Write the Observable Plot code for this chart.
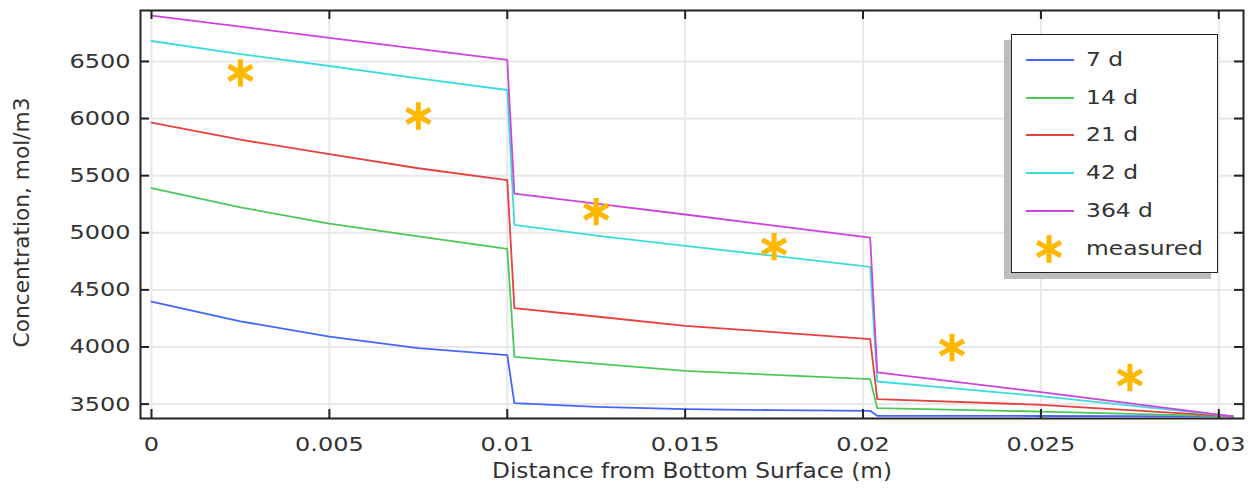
<!DOCTYPE html>
<html><head><meta charset="utf-8">
<script src="https://cdn.jsdelivr.net/npm/d3@7"></script>
<script src="https://cdn.jsdelivr.net/npm/@observablehq/plot@0.6"></script>
<style>
body{margin:0;background:#fff;}
#wrap{position:relative;width:1255px;height:492px;font-family:"DejaVu Sans",sans-serif;}
#legendBox{position:absolute;left:1011px;top:34px;width:205px;height:237px;border:1.5px solid #222;background:#fff;box-shadow:-7px 6px 0 #bdbdbd;}
.lrow{position:absolute;height:26px;line-height:26px;font-size:19.5px;color:#333;white-space:nowrap;transform:scaleX(1.2);transform-origin:left center;}
.lsym{position:absolute;overflow:visible;}
</style></head><body><div id="wrap"></div>
<script>
// ---- data ----
const distance = [0, 0.0025, 0.005, 0.0075, 0.01, 0.0102, 0.0125, 0.015, 0.0175, 0.0202, 0.0204, 0.025, 0.0304];
const conc7d   = [4398, 4225, 4090, 3990, 3929, 3509, 3476, 3456, 3447, 3441, 3398, 3396, 3392];
const conc14d  = [5390, 5223, 5080, 4968, 4860, 3914, 3855, 3791, 3756, 3719, 3465, 3435, 3392];
const conc21d  = [5964, 5815, 5688, 5565, 5460, 4340, 4267, 4185, 4130, 4069, 3544, 3494, 3392];
const conc42d  = [6679, 6565, 6460, 6352, 6250, 5070, 4975, 4885, 4798, 4702, 3698, 3570, 3392];
const conc364d = [6901, 6804, 6707, 6610, 6513, 5343, 5255, 5160, 5062, 4958, 3777, 3605, 3392];
const seriesNames = ["7 d", "14 d", "21 d", "42 d", "364 d"];
const seriesColors = ["#4466ff", "#4cc85a", "#e8403f", "#3ddcdc", "#cc44dd"];
const measuredX = [0.0025, 0.0075, 0.0125, 0.0175, 0.0225, 0.0275];
const measuredY = [6400, 6023, 5185, 4879, 3995, 3733];
const measuredName = "measured";
const measuredColor = "#ffb800";
const xTicks = [0, 0.005, 0.01, 0.015, 0.02, 0.025, 0.03];
const xTickLabels = ["0", "0.005", "0.01", "0.015", "0.02", "0.025", "0.03"];
const yTicks = [3500, 4000, 4500, 5000, 5500, 6000, 6500];
const xTitle = "Distance from Bottom Surface (m)";
const yTitle = "Concentration, mol/m3";

// ---- build tables ----
const seriesValues = [conc7d, conc14d, conc21d, conc42d, conc364d];
const rows = seriesValues.flatMap((vals, k) => distance.map((d, i) => ({x: d, y: vals[i], series: seriesNames[k]})));
const measured = measuredX.map((d, i) => ({x: d, y: measuredY[i]}));

const W = 1255, H = 492, mL = 140, mR = 12, mT = 10, mB = 74;
const innerW = W - mL - mR, innerH = H - mT - mB;
const tickLen = 9;
const gridColor = "#e8e8e8";
const axisColor = "#222";
const starR = 13;

const chart = Plot.plot({
  width: W, height: H,
  marginLeft: mL, marginRight: mR, marginTop: mT, marginBottom: mB,
  x: {domain: [-0.000309, 0.030694]},
  y: {domain: [3374, 6946]},
  color: {domain: seriesNames, range: seriesColors},
  style: {fontFamily: "DejaVu Sans", fontSize: "20px", color: "#333", background: "#fff"},
  marks: [
    Plot.ruleX(xTicks, {stroke: gridColor, strokeWidth: 2}),
    Plot.ruleY(yTicks, {stroke: gridColor, strokeWidth: 2}),
    Plot.line(rows, {x: "x", y: "y", z: "series", stroke: "series", strokeWidth: 1.8}),
    Plot.dot(measured, {x: "x", y: "y", symbol: "asterisk", r: starR, stroke: measuredColor, strokeWidth: 5}),
    Plot.frame({stroke: axisColor, strokeWidth: 2}),
    Plot.ruleX(xTicks, {insetTop: innerH - tickLen, stroke: axisColor, strokeWidth: 2}),
    Plot.ruleX(xTicks, {insetBottom: innerH - tickLen, stroke: axisColor, strokeWidth: 2}),
    Plot.ruleY(yTicks, {insetRight: innerW - tickLen, stroke: axisColor, strokeWidth: 2}),
    Plot.ruleY(yTicks, {insetLeft: innerW - tickLen, stroke: axisColor, strokeWidth: 2}),
    Plot.axisX({ticks: xTicks, tickFormat: d => xTickLabels[xTicks.indexOf(d)], tickSize: 0, tickPadding: 18.5, label: null, fill: "#333"}),
    Plot.axisY({ticks: yTicks, tickFormat: d => d3.format("d")(d), tickSize: 0, tickPadding: 10, label: null, fill: "#333"}),
    Plot.text([xTitle], {frameAnchor: "bottom", dy: 53, fontSize: 21, fill: "#333", lineAnchor: "middle", textAnchor: "middle"}),
    Plot.text([yTitle], {frameAnchor: "left", dx: -118, dy: 8, rotate: -90, fontSize: 21.7, fill: "#333", lineAnchor: "middle", textAnchor: "middle"})
  ]
});

const wrap = document.getElementById("wrap");
chart.style.position = "absolute";
chart.style.left = "0px";
chart.style.top = "0px";
wrap.appendChild(chart);

// widen horizontal texts (reference glyphs are wider than they are tall)
chart.querySelectorAll('g[aria-label="x-axis tick label"] text, g[aria-label="y-axis tick label"] text').forEach(t => {
  const L = t.getComputedTextLength();
  t.setAttribute("textLength", (L * 1.2).toFixed(1));
  t.setAttribute("lengthAdjust", "spacingAndGlyphs");
});
chart.querySelectorAll("text").forEach(t => {
  if (t.textContent === xTitle) {
    t.setAttribute("textLength", 400);
    t.setAttribute("lengthAdjust", "spacingAndGlyphs");
  }
});

// ---- legend ----
const box = document.createElement("div");
box.id = "legendBox";
wrap.appendChild(box);
const rowY = [60, 97.7, 135.4, 173.1, 210.8, 248.5];
const ns = "http://www.w3.org/2000/svg";
seriesNames.forEach((name, i) => {
  const s = document.createElementNS(ns, "svg");
  s.setAttribute("class", "lsym");
  s.setAttribute("width", 52); s.setAttribute("height", 12);
  s.style.left = "1024px"; s.style.top = (rowY[i] - 6) + "px";
  const l = document.createElementNS(ns, "line");
  l.setAttribute("x1", 2); l.setAttribute("x2", 50); l.setAttribute("y1", 6); l.setAttribute("y2", 6);
  l.setAttribute("stroke", seriesColors[i]); l.setAttribute("stroke-width", 2);
  s.appendChild(l);
  wrap.appendChild(s);
  const t = document.createElement("div");
  t.className = "lrow"; t.textContent = name;
  t.style.left = "1086px"; t.style.top = (rowY[i] - 13) + "px";
  wrap.appendChild(t);
});
{
  const i = 5;
  const s = document.createElementNS(ns, "svg");
  s.setAttribute("class", "lsym");
  s.setAttribute("width", 30); s.setAttribute("height", 30);
  s.style.left = (1049 - 15) + "px"; s.style.top = (rowY[i] - 15) + "px";
  const p = document.createElementNS(ns, "path");
  p.setAttribute("d", d3.symbol(d3.symbolAsterisk, Math.PI * starR * starR)());
  p.setAttribute("transform", "translate(15,15)");
  p.setAttribute("fill", "none"); p.setAttribute("stroke", measuredColor); p.setAttribute("stroke-width", 5);
  s.appendChild(p);
  wrap.appendChild(s);
  const t = document.createElement("div");
  t.className = "lrow"; t.textContent = measuredName;
  t.style.left = "1086px"; t.style.top = (rowY[i] - 13) + "px";
  wrap.appendChild(t);
}
</script></body></html>
